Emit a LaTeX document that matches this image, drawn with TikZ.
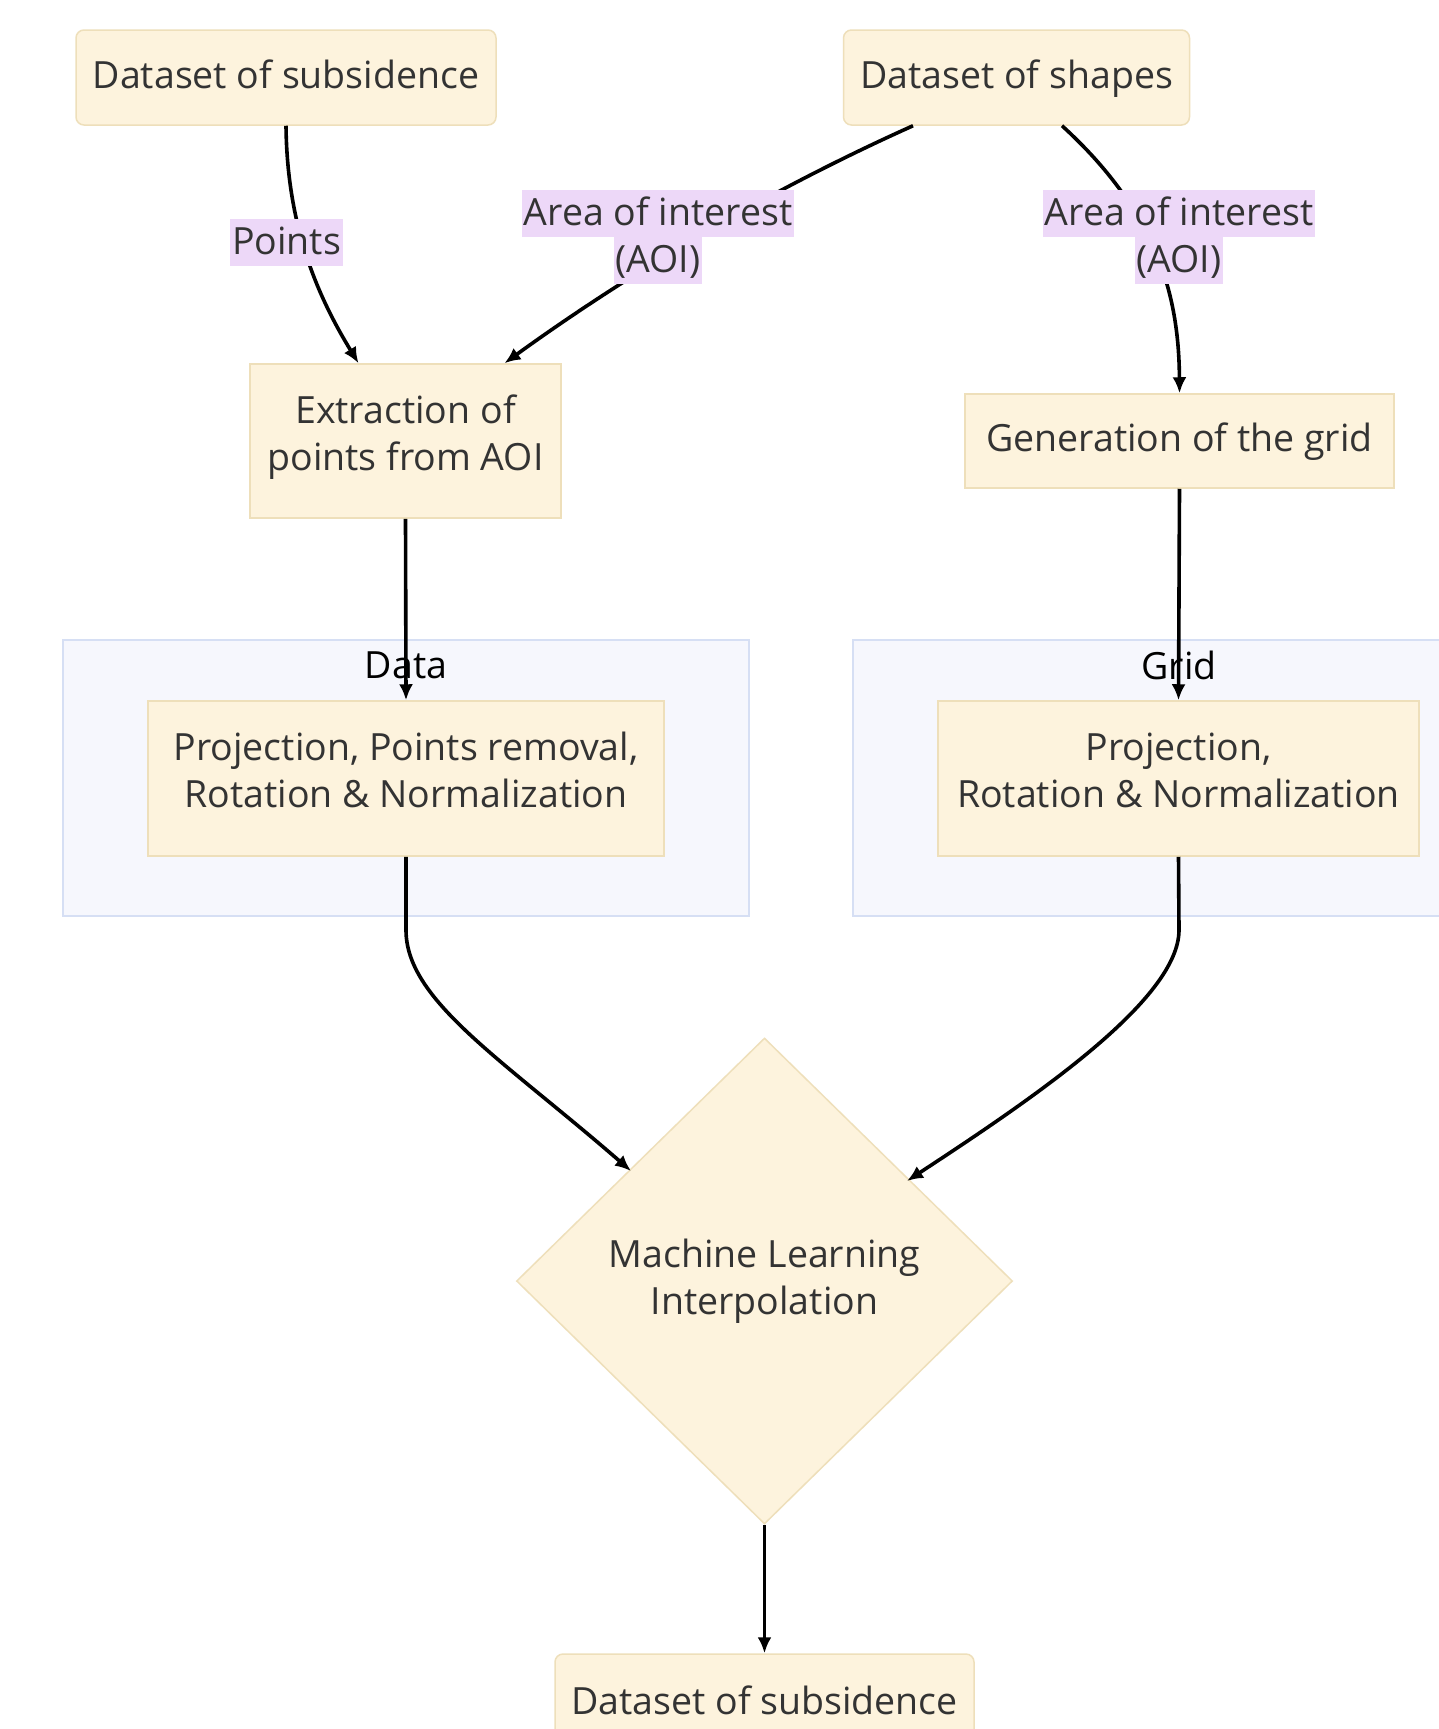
\documentclass[tikz,border=0pt]{standalone}
\usepackage{fontspec}
\setmainfont{Open Sans}
\usetikzlibrary{shapes.geometric,arrows.meta,calc}
\definecolor{nodefill}{HTML}{FDF3DD}
\definecolor{nodeborder}{HTML}{EEDFBA}
\definecolor{grpfill}{HTML}{F6F7FD}
\definecolor{grpborder}{HTML}{D6DFF4}
\definecolor{lblbg}{HTML}{EDD8F8}
\definecolor{txt}{HTML}{333333}
\setlength{\lineskiplimit}{-30pt}
\newcommand{\hlbox}[1]{{\setlength{\fboxsep}{0pt}\colorbox{lblbg}{\rule[-12pt]{0pt}{47pt}\kern2pt#1\kern2pt}}}
\begin{document}
\begin{tikzpicture}[x=1pt,y=-1pt,
  every node/.style={font=\fontsize{37.5}{47}\selectfont, text=txt},
  rbox/.style={draw=nodeborder, fill=nodefill, line width=1.5pt, rounded corners=8pt, inner sep=0pt, text depth=7pt},
  sbox/.style={draw=nodeborder, fill=nodefill, line width=1.5pt, inner sep=0pt, align=center},
  grp/.style={draw=grpborder, fill=grpfill, line width=1.5pt},
  lbl/.style={inner sep=0pt, align=center},
  edge/.style={line width=3.6pt, draw=black, -{Latex[length=16pt,width=14pt]}}
]
\useasboundingbox (0,0) rectangle (1439,1729);
\fill[white] (0,0) rectangle (1439,1729);

% subgraphs
\draw[grp] (63,640) rectangle (749,916);
\draw[grp] (853,640) rectangle (1470,916);
\node[text=black] (tdata) at (406,665) {Data};
\node[text=black] (tgrid) at (1179,665) {Grid};

% nodes
\node[rbox, minimum width=420pt, minimum height=95pt] (A) at (286,77.5) {Dataset of subsidence};
\node[rbox, minimum width=346pt, minimum height=95pt] (B) at (1016.5,77.5) {Dataset of shapes};
\node[sbox, text depth=16pt, minimum width=311pt, minimum height=154pt] (ext) at (405.5,441) {Extraction of\\points from AOI};
\node[sbox, text depth=7pt, minimum width=429pt, minimum height=94pt] (gen) at (1179.5,441) {Generation of the grid};
\node[sbox, text depth=17pt, minimum width=516pt, minimum height=155pt] (pl) at (406,778.5) {Projection, Points removal,\\Rotation \& Normalization};
\node[sbox, text depth=17pt, minimum width=481pt, minimum height=155pt] (pr) at (1178.5,778.5) {Projection,\\Rotation \& Normalization};
\node[diamond, draw=nodeborder, fill=nodefill, line width=1.5pt, inner sep=0pt, aspect=1, minimum width=496pt, minimum height=486pt, align=center] (ml) at (764.5,1281) {Machine Learning\\Interpolation};
\node[rbox, text depth=4pt, minimum width=419pt, minimum height=96pt] (out) at (764.5,1702) {Dataset of subsidence};

% edges
\draw[edge] (A.south) .. controls (287,230) and (320,300) .. ($(ext.north)+(-47,0)$);
\draw[edge] ($(B.south)+(-103.5,0)$) .. controls (763,193) and (625,276) .. ($(ext.north)+(99,0)$);
\draw[edge] ($(B.south)+(45.5,0)$) .. controls (1160,215) and (1179,300) .. (gen.north);
\draw[edge] (ext.south) -- (pl.north);
\draw[edge] (gen.south) -- (pr.north);
\draw[edge] (pl.south) -- (406,930) .. controls (406,1000) and (501,1058) .. (631,1171);
\draw[edge] (pr.south) -- (1179,930) .. controls (1179,1000) and (1032,1099) .. (907,1181);
\draw[edge] (ml.south) -- (out.north);

% edge labels
\node[lbl] (lp) at (286.5,242.5) {\hlbox{Points}};
\node[lbl] (la) at (658,237) {\hlbox{Area of interest}\\\hlbox{(AOI)}};
\node[lbl] (lb) at (1179,237) {\hlbox{Area of interest}\\\hlbox{(AOI)}};
\end{tikzpicture}
\end{document}
